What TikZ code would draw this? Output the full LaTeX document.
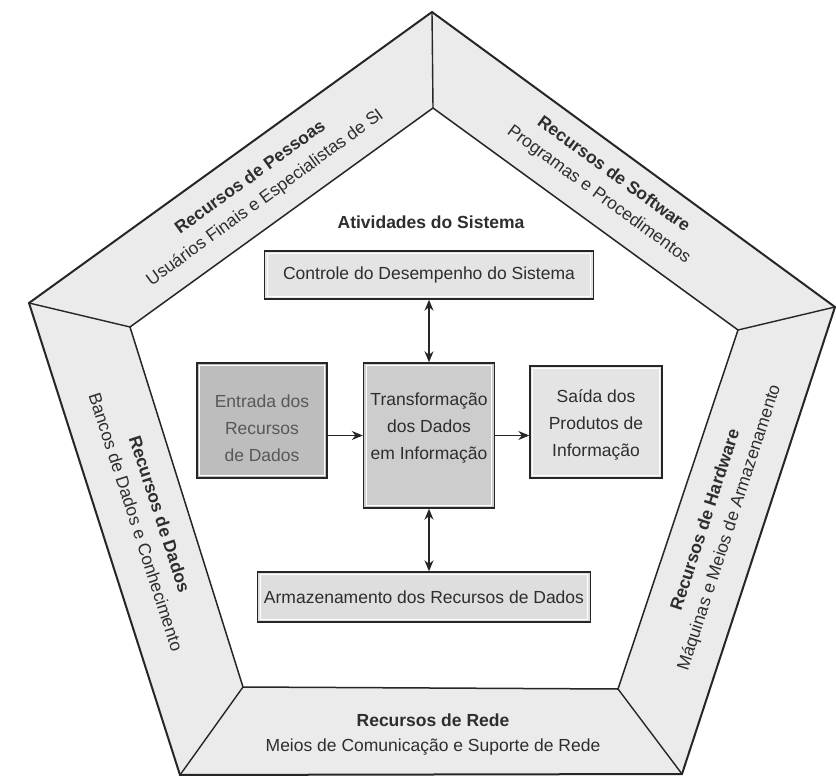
\documentclass[tikz,border=0pt]{standalone}
\usepackage{fontspec}
\setmainfont{Liberation Sans}
\usetikzlibrary{arrows.meta}
\definecolor{ringfill}{HTML}{EBEBEB}
\definecolor{edge}{HTML}{262626}
\definecolor{ink}{HTML}{2E2E2E}
\definecolor{boxin}{HTML}{BDBDBD}
\definecolor{boxmid}{HTML}{CDCDCD}
\definecolor{boxlight}{HTML}{E4E4E4}
\definecolor{boxstore}{HTML}{DEDEDE}
\begin{document}
\begin{tikzpicture}[x=1pt,y=-1pt,
  font=\fontsize{17.5}{27}\selectfont,
  every node/.style={text=ink},
  ringlabel/.style={inner sep=0pt,align=center,font=\fontsize{17.5}{25}\selectfont},
  headtext/.style={inner sep=0pt,font=\fontsize{17.5}{21}\selectfont\bfseries},
  procbox/.style={draw=edge,line width=1.4pt,inner sep=0pt,
    path picture={\draw[white,line width=0.9pt]
      ([xshift=2.6pt,yshift=-2.6pt]path picture bounding box.north west) rectangle
      ([xshift=-2.6pt,yshift=2.6pt]path picture bounding box.south east);}},
  flow/.style={draw=edge,line width=1.4pt,-{Stealth[length=11pt,width=9pt]}},
  bothflow/.style={draw=edge,line width=1.4pt,{Stealth[length=11pt,width=9pt]}-{Stealth[length=11pt,width=9pt]}}
]
\useasboundingbox (0,0) rectangle (836,776);

% outer and inner pentagon vertices
\coordinate (o1) at (432,12);
\coordinate (o2) at (835,307);
\coordinate (o3) at (682,774);
\coordinate (o4) at (180,775);
\coordinate (o5) at (29,303);
\coordinate (i1) at (433,108);
\coordinate (i2) at (738,330);
\coordinate (i3) at (618,689);
\coordinate (i4) at (243,687);
\coordinate (i5) at (130,327);

% the resource ring
\fill[ringfill] (o1) -- (o2) -- (o3) -- (o4) -- (o5) -- cycle;
\fill[white] (i1) -- (i2) -- (i3) -- (i4) -- (i5) -- cycle;
\draw[edge,line width=1.5pt,line join=miter] (i1) -- (i2) -- (i3) -- (i4) -- (i5) -- cycle;
\foreach \k in {1,...,5}{\draw[edge,line width=1.4pt] (o\k) -- (i\k);}
\draw[edge,line width=2pt,line join=miter] (o1) -- (o2) -- (o3) -- (o4) -- (o5) -- cycle;

% ring labels: resource name over its description
\node[ringlabel,rotate=36] (pessoas) at (258,188)
  {\textbf{Recursos de Pessoas}\\Usuários Finais e Especialistas de SI};
\node[ringlabel,rotate=-36] (software) at (606,185)
  {\textbf{Recursos de Software}\\Programas e Procedimentos};
\node[ringlabel,rotate=72] (hardware) at (718,524)
  {\textbf{Recursos de Hardware}\\Máquinas e Meios de Armazenamento};
\node[ringlabel,rotate=-72] (dados) at (148,518)
  {\textbf{Recursos de Dados}\\Bancos de Dados e Conhecimento};
\node[ringlabel] (rede) at (433,735)
  {\textbf{Recursos de Rede}\\Meios de Comunicação e Suporte de Rede};

% system activities
\node[headtext] (title) at (431,222) {Atividades do Sistema};

\node[procbox,fill=boxlight,minimum width=329pt,minimum height=48pt] (ctrl) at (429,275)
  {Controle do Desempenho do Sistema};
\node[procbox,fill=boxin,minimum width=130pt,minimum height=115pt] (entrada) at (262,420.5) {};
\node[procbox,fill=boxmid,minimum width=131pt,minimum height=145pt] (trans) at (429,435.5) {};
\node[procbox,fill=boxlight,minimum width=132pt,minimum height=112pt] (saida) at (596,422) {};
\node[procbox,fill=boxstore,minimum width=333pt,minimum height=50pt] (arm) at (424,597)
  {Armazenamento dos Recursos de Dados};

\node[align=center,inner sep=0pt,text=ink!80] (entradaT) at (262,428) {Entrada dos\\Recursos\\de Dados};
\node[align=center,inner sep=0pt] (transT) at (429,428) {Transformação\\dos Dados\\em Informação};
\node[align=center,inner sep=0pt] (saidaT) at (596,425) {Saída dos\\Produtos de\\Informação};

% flows between activities
\draw[flow] (entrada.east |- trans) -- (trans.west);
\draw[flow] (trans.east) -- (saida.west |- trans);
\draw[bothflow] (trans.north) -- (ctrl.south -| trans.north);
\draw[bothflow] (trans.south) -- (arm.north -| trans.south);
\end{tikzpicture}
\end{document}
